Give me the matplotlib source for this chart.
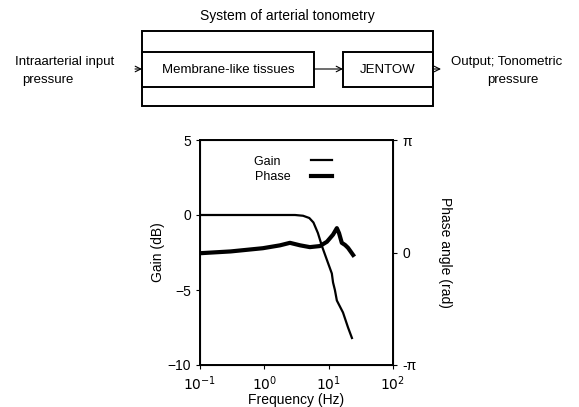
import numpy as np
import matplotlib
matplotlib.use("Agg")
import matplotlib.pyplot as plt
from matplotlib.patches import Rectangle

plt.rcParams["font.family"] = ["Liberation Sans", "DejaVu Sans"]

# gain curve (dB) vs frequency (Hz)
gain_freq = [0.1, 0.5, 1, 2, 3, 4, 5, 5.8, 6.8, 7.9, 9.4, 11.2, 11.7, 12.5, 13.4, 16.7, 20, 23]
gain_db = [0.0, 0.0, 0.0, 0.0, 0.0, -0.05, -0.2, -0.5, -1.2, -2.1, -3.0, -3.9, -4.5, -5.0, -5.7, -6.5, -7.5, -8.2]

# phase curve (rad) vs frequency (Hz)
phase_freq = [0.1, 0.3, 0.95, 1.75, 2.5, 3.6, 5.1, 7.3, 9.4, 11.7, 13.4, 14.5, 16, 18, 20, 24]
phase_rad = [-0.02, 0.03, 0.12, 0.2, 0.27, 0.2, 0.15, 0.18, 0.3, 0.5, 0.68, 0.54, 0.27, 0.21, 0.13, -0.07]

gain_ticks = [5, 0, -5, -10]
phase_ticks = [-np.pi, 0, np.pi]
phase_labels = ["-π", "0", "π"]
freq_ticks = [0.1, 1, 10, 100]
freq_labels = ["$10^{-1}$", "$10^{0}$", "$10^{1}$", "$10^{2}$"]

W, H = 579, 407
fig = plt.figure(figsize=(W / 100, H / 100), dpi=100)

# block diagram drawn in pixel coordinates
bd = fig.add_axes([0, 0, 1, 1], zorder=0)
bd.set_xlim(0, W)
bd.set_ylim(H, 0)
bd.axis("off")

fs = 9.5
bd.add_patch(Rectangle((142, 31), 291, 75, fill=False, lw=1.4, ec="black"))
bd.add_patch(Rectangle((142, 52), 172, 35, fill=False, lw=1.4, ec="black"))
bd.add_patch(Rectangle((343, 52), 90, 35, fill=False, lw=1.4, ec="black"))
bd.text(287, 16, "System of arterial tonometry", ha="center", va="center", fontsize=10)
bd.text(228, 70, "Membrane-like tissues", ha="center", va="center", fontsize=fs)
bd.text(388, 70, "JENTOW", ha="center", va="center", fontsize=fs)
bd.text(15, 62, "Intraarterial input", ha="left", va="center", fontsize=fs)
bd.text(22, 80, "pressure", ha="left", va="center", fontsize=fs)
bd.text(507, 62, "Output; Tonometric", ha="center", va="center", fontsize=fs)
bd.text(513, 80, "pressure", ha="center", va="center", fontsize=fs)
arrow = dict(arrowstyle="->", lw=0.8, color="black", shrinkA=0, shrinkB=0)
bd.annotate("", xy=(142, 69), xytext=(135, 69), arrowprops=arrow)
bd.annotate("", xy=(343, 69), xytext=(314, 69), arrowprops=arrow)
bd.annotate("", xy=(441, 69), xytext=(433, 69), arrowprops=arrow)

# bode plot
ax = fig.add_axes([200 / W, 1 - 365 / H, 193 / W, 225 / H], zorder=1)
ax.set_xscale("log")
ax.set_xlim(0.1, 100)
ax.set_ylim(-10, 5)
g, = ax.plot(gain_freq, gain_db, color="black", lw=1.6, label="Gain")
ax.set_yticks(gain_ticks)
ax.set_xticks(freq_ticks)
ax.set_xticklabels(freq_labels)
ax.tick_params(axis="both", labelsize=10, direction="out", length=3)
ax.tick_params(axis="x", which="minor", length=0)
ax.set_ylabel("Gain (dB)", fontsize=10, labelpad=2)
ax.set_xlabel("Frequency (Hz)", fontsize=10, labelpad=0)
for s in ax.spines.values():
    s.set_linewidth(1.4)

ax2 = ax.twinx()
ax2.set_ylim(-np.pi, np.pi)
p, = ax2.plot(phase_freq, phase_rad, color="black", lw=3.0, label="Phase")
ax2.set_yticks(phase_ticks)
ax2.set_yticklabels(phase_labels)
ax2.tick_params(axis="y", labelsize=10, direction="out", length=3)
ax2.set_ylabel("Phase angle (rad)", fontsize=10, rotation=270, labelpad=26)

ax.legend([g, p], ["Gain   ", "Phase"], loc="upper left", bbox_to_anchor=(0.22, 0.98),
          frameon=False, markerfirst=False, fontsize=9, handlelength=1.7,
          handletextpad=1.6, labelspacing=0.3)

fig.savefig("out.png", dpi=100)
